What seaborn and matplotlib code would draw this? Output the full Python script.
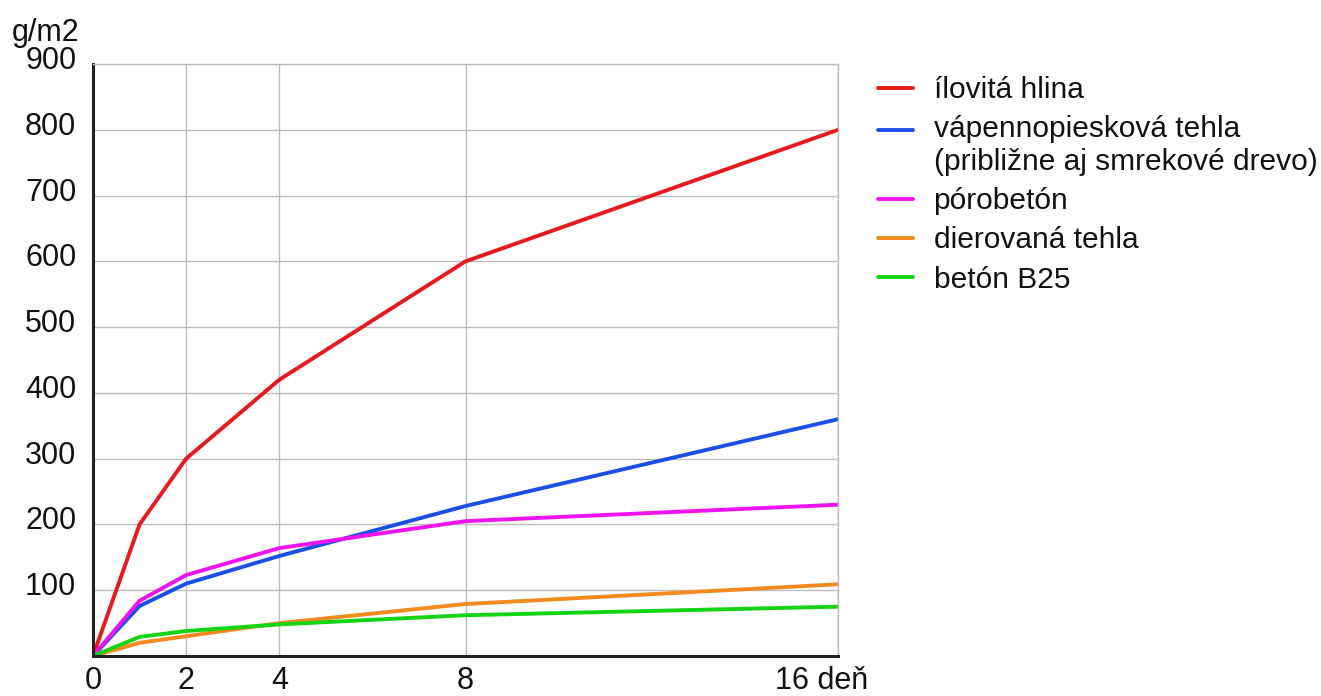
import pandas as pd
import matplotlib.pyplot as plt
import matplotlib.transforms as mtransforms
import seaborn as sns

# Data
days = [0, 1, 2, 4, 8, 16]
materials = [
    "ílovitá hlina",
    "vápennopiesková tehla\n(približne aj smrekové drevo)",
    "pórobetón",
    "dierovaná tehla",
    "betón B25",
]
ilovita_hlina = [0, 200, 300, 420, 600, 800]
vapennopieskova_tehla = [0, 76, 110, 152, 228, 360]
porobeton = [0, 84, 123, 164, 205, 230]
dierovana_tehla = [0, 20, 30, 50, 79, 109]
beton_b25 = [0, 29, 38, 48, 62, 75]

x_ticks = [0, 2, 4, 8, 16]
x_tick_labels = ["0", "2", "4", "8", "16 deň"]
y_ticks = [100, 200, 300, 400, 500, 600, 700, 800, 900]

colors = ["#e8191c", "#1a4fe6", "#ee12ee", "#f28a1e", "#14d414"]

series = [ilovita_hlina, vapennopieskova_tehla, porobeton, dierovana_tehla, beton_b25]
rows = []
for name, values in zip(materials, series):
    for d, v in zip(days, values):
        rows.append({"den": d, "hodnota": v, "material": name})
df = pd.DataFrame(rows)

sns.set_style("white")
plt.rcParams["font.family"] = ["Liberation Sans", "DejaVu Sans"]
plt.rcParams["text.color"] = "#111111"

fig = plt.figure(figsize=(13.21, 6.96), dpi=100)
ax = fig.add_axes([0.0704, 0.0575, 0.5640, 0.8505])

sns.lineplot(
    data=df, x="den", y="hodnota", hue="material",
    hue_order=materials, palette=colors, linewidth=2.8,
    ax=ax, sort=False,
)

ax.set_xlim(0, 16)
ax.set_ylim(0, 900)
ax.set_xticks(x_ticks)
ax.set_xticklabels(x_tick_labels)
ax.set_yticks(y_ticks)
ax.set_xlabel("")
ax.set_ylabel("")
ax.grid(True, color="#bdbdbd", linewidth=1.0)
ax.set_axisbelow(True)
ax.tick_params(axis="both", length=0, labelsize=22, colors="#111111")
ax.tick_params(axis="y", pad=12)
ax.tick_params(axis="x", pad=7)

for side in ["top", "right"]:
    ax.spines[side].set_color("#bdbdbd")
    ax.spines[side].set_linewidth(1.0)
for side in ["left", "bottom"]:
    ax.spines[side].set_color("#222222")
    ax.spines[side].set_linewidth(2.2)

# y labels sit a little above their grid lines in the reference
up = mtransforms.ScaledTranslation(0, 0.065, fig.dpi_scale_trans)
for lbl in ax.get_yticklabels():
    lbl.set_transform(lbl.get_transform() + up)

# shift the "16 deň" label so it sits like in the reference
last = ax.get_xticklabels()[-1]
last.set_transform(last.get_transform() + mtransforms.ScaledTranslation(-0.165, 0, fig.dpi_scale_trans))

fig.text(0.009, 0.952, "g/m2", fontsize=22, ha="left", va="center")

leg = ax.legend(
    loc="upper left", bbox_to_anchor=(1.038, 1.0), frameon=False,
    fontsize=21.5, handlelength=1.15, handletextpad=0.7, labelspacing=0.38,
    borderaxespad=0,
)
for line in leg.get_lines():
    line.set_linewidth(2.8)
for t in leg.get_texts():
    t.set_color("#111111")

# align the two-line entry's handle with its first line
blue = leg.get_lines()[1]
blue.set_ydata([y + 11.5 for y in blue.get_ydata()])

plt.savefig("out.png", dpi=100)
